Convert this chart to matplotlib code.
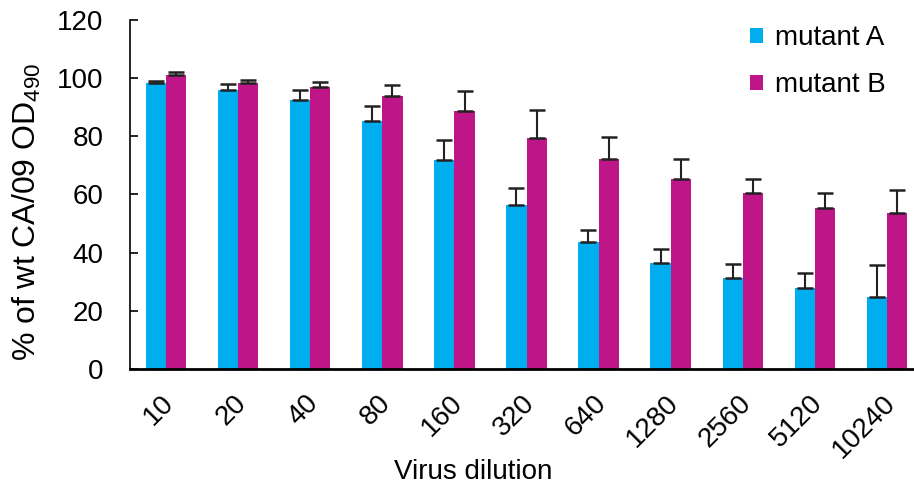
#!/usr/bin/env python3

import numpy as np
import matplotlib.pyplot as plt
import matplotlib.transforms as mtransforms

plt.rcParams['font.family'] = ['Liberation Sans', 'DejaVu Sans']
plt.rcParams['mathtext.fontset'] = 'custom'
plt.rcParams['mathtext.rm'] = 'Liberation Sans'

# dilutions and readings (% of wt)
dilutions = ['10', '20', '40', '80', '160', '320', '640', '1280', '2560', '5120', '10240']
mutant_a = [98.3, 95.9, 92.5, 85.3, 72.0, 56.4, 43.8, 36.5, 31.4, 28.0, 24.9]
mutant_a_err = [0.6, 2.0, 3.3, 5.0, 6.8, 6.0, 4.0, 4.6, 4.6, 5.0, 11.0]
mutant_b = [101.0, 98.4, 97.0, 93.9, 88.7, 79.3, 72.1, 65.2, 60.4, 55.3, 53.5]
mutant_b_err = [1.0, 1.0, 1.7, 3.7, 6.8, 9.7, 7.5, 7.1, 4.8, 5.3, 8.0]

if __name__ == '__main__':
    fig = plt.figure(figsize=(9.14, 4.86), dpi=100)
    ax = fig.add_axes([130/914, 117/486, (923-130)/914, (369-20)/486])

    x = np.arange(len(dilutions))
    w = 0.28
    zeros = np.zeros(len(dilutions))
    ekw = dict(ecolor='#222222', capsize=5.5, elinewidth=1.5, capthick=1.8)
    ax.bar(x - w/2, mutant_a, w, color='#00AEEF', label='mutant A',
           yerr=[zeros, mutant_a_err], error_kw=ekw)
    ax.bar(x + w/2, mutant_b, w, color='#BE1589', label='mutant B',
           yerr=[zeros, mutant_b_err], error_kw=ekw)

    ax.set_xlim(-0.5, len(dilutions) - 0.5)
    ax.set_ylim(0, 120)
    ax.set_yticks(range(0, 121, 20))
    ax.spines['top'].set_visible(False)
    ax.spines['right'].set_visible(False)
    ax.spines['left'].set_linewidth(1.2)
    ax.spines['bottom'].set_linewidth(2.0)
    ax.tick_params(axis='y', direction='in', length=6, width=1.2, labelsize=20, pad=19)
    ax.tick_params(axis='x', length=0, labelsize=20, pad=15)
    ax.set_xticks(x)
    ax.set_xticklabels(dilutions, rotation=45, ha='right', rotation_mode='anchor')
    # nudge the rotated labels so their ends sit under the group
    shift = mtransforms.ScaledTranslation(-5/100, 0, fig.dpi_scale_trans)
    for lbl in ax.get_xticklabels():
        lbl.set_transform(lbl.get_transform() + shift)

    ax.set_xlabel('Virus dilution', fontsize=20)
    ax.xaxis.set_label_coords((473-130)/793, (369-459)/349)
    ax.set_ylabel('% of wt CA/09 OD$\\mathregular{_{490}}$', fontsize=23)
    ax.yaxis.set_label_coords((43-130)/793, (369-212)/349)

    ax.legend(loc='upper left', bbox_to_anchor=(750/914, 1 - 25/486), bbox_transform=fig.transFigure,
              frameon=False, fontsize=20, borderpad=0, borderaxespad=0,
              handlelength=0.45, handleheight=0.45, handletextpad=0.45, labelspacing=0.76)

    plt.savefig('out.png')
